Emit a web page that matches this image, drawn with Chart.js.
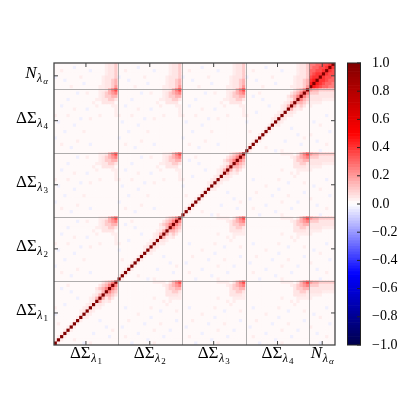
<!DOCTYPE html>
<html>
<head>
<meta charset="utf-8">
<script src="https://cdn.jsdelivr.net/npm/chart.js@4.4.0/dist/chart.umd.min.js"></script>
<style>
  html, body { margin: 0; padding: 0; background: #fff; }
  #wrap { position: relative; width: 411px; height: 411px; }
  #wrap canvas { position: absolute; left: 0; top: 0; }
</style>
</head>
<body>
<div id="wrap">
  <canvas id="matrix" width="411" height="411"></canvas>
  <canvas id="cbar" width="411" height="411"></canvas>
</div>
<script>
// four ΔΣ blocks of 20 radial bins, then the N block of 8 bins
var blockSizes = [20, 20, 20, 20, 8];
var blockEdges = [20, 40, 60, 80];
var blockCenters = [10, 30, 50, 70, 84];
var tickMain = ['ΔΣ', 'ΔΣ', 'ΔΣ', 'ΔΣ', 'N'];
var tickSub = ['λ', 'λ', 'λ', 'λ', 'λ'];
var tickSubSub = ['1', '2', '3', '4', 'α'];
var cbarMin = -1.0, cbarMax = 1.0, cbarStep = 0.2;

// cell codes: digit d = d*0.05, X = 1, '.' faint pink, ',' pink, '-' faint blue
var codeValues = { '.': 0.012, ',': 0.035, '-': -0.03, 'X': 1.0 };

// ΔΣ_i x ΔΣ_i (rows from lowest bin, bottom up)
var sameBlock = [
    "X,.......-.,........",
    ",X,...,.............",
    ".,X,.............-..",
    "..,X,.......-.......",
    "...,X,............,.",
    "....,X,.........-...",
    ".,...,X,............",
    "......,X,.....-.....",
    ".......,X,,.........",
    "-.......,X1,........",
    "........,1X1,.......",
    ",........,1X1,,.....",
    "...-......,1X11,....",
    "...........,1X31,1..",
    ".......-...,13X3121.",
    "............,13X3321",
    ".....-.......,13X532",
    "..-..........1235X53",
    "....,.........1235X5",
    "...............1235X"
];

// ΔΣ_i x ΔΣ_j, i != j
var crossBlock = [
    "....-......,........",
    ".........-..........",
    "..,...........-.....",
    "......-.............",
    "...........,....-...",
    ".-..................",
    "........-....,......",
    "...,..............-.",
    "..........-.........",
    "......,.............",
    ".............-....,.",
    "..-.......,.........",
    "...............,....",
    "..............,.,...",
    "...........,....,,,,",
    "...............1111,",
    "...............11221",
    "...............12233",
    "..............,12345",
    "...........,,,,.1357"
];

// N x N
var nBlock = [
    "X9876655",
    "9X987665",
    "89X88766",
    "788X8776",
    "6788X877",
    "66778X87",
    "566778X8",
    "5566778X"
];

// ΔΣ bins (rows) x N bins (cols)
var nCross = [
    "...-....",
    "........",
    ".....,..",
    "..-.....",
    "........",
    ",.......",
    "......-.",
    "........",
    "...,....",
    ".-......",
    "........",
    ".....-..",
    "........",
    "........",
    ",.......",
    ",,,,....",
    "1111,,,,",
    "11111111",
    "22211111",
    "43322222"
];

function codeToValue(ch) {
    if (ch in codeValues) return codeValues[ch];
    if (ch >= '0' && ch <= '9') return Number(ch) * 0.05;
    return 0.012;
}

function blockCell(bi, bj, r, c) {
    if (bi === bj) return bi === 4 ? nBlock[r][c] : sameBlock[r][c];
    if (bi === 4) return nCross[c][r];
    if (bj === 4) return nCross[r][c];
    return bi < bj ? crossBlock[r][c] : crossBlock[c][r];
}

// build the full matrix, row 0 at the bottom
var matrix = [];
for (var bi = 0; bi < blockSizes.length; bi++) {
    for (var r = 0; r < blockSizes[bi]; r++) {
        var row = [];
        for (var bj = 0; bj < blockSizes.length; bj++) {
            for (var c = 0; c < blockSizes[bj]; c++) {
                row.push(codeToValue(blockCell(bi, bj, r, c)));
            }
        }
        matrix.push(row);
    }
}
var nBins = matrix.length;

function seismic(v) {
    var t = (Math.max(-1, Math.min(1, v)) + 1) / 2;
    var r, g, b, s;
    if (t < 0.25) { s = t / 0.25; r = 0; g = 0; b = 0.3 + 0.7 * s; }
    else if (t < 0.5) { s = (t - 0.25) / 0.25; r = s; g = s; b = 1; }
    else if (t < 0.75) { s = (t - 0.5) / 0.25; r = 1; g = 1 - s; b = 1 - s; }
    else { s = (t - 0.75) / 0.25; r = 1 - 0.5 * s; g = 0; b = 0; }
    return 'rgb(' + Math.round(r * 255) + ',' + Math.round(g * 255) + ',' + Math.round(b * 255) + ')';
}

var serif = '"Liberation Serif", "DejaVu Serif", serif';

function drawLabel(ctx, i, x, base, align) {
    var fMain = (tickMain[i] === 'N' ? 'italic ' : '') + '17px ' + serif;
    var fSub = 'italic 12px ' + serif;
    var fSubSub = (tickSubSub[i] === 'α' ? 'italic ' : '') + '9px ' + serif;
    ctx.font = fMain; var w1 = ctx.measureText(tickMain[i]).width;
    ctx.font = fSub; var w2 = ctx.measureText(tickSub[i]).width;
    ctx.font = fSubSub; var w3 = ctx.measureText(tickSubSub[i]).width;
    var total = w1 + w2 + w3 + 1.5;
    var x0 = align === 'center' ? x - total / 2 : x - total;
    ctx.textAlign = 'left';
    ctx.textBaseline = 'alphabetic';
    ctx.fillStyle = '#000';
    ctx.font = fMain; ctx.fillText(tickMain[i], x0, base);
    ctx.font = fSub; ctx.fillText(tickSub[i], x0 + w1 + 0.5, base + 4);
    ctx.font = fSubSub; ctx.fillText(tickSubSub[i], x0 + w1 + w2 + 1.5, base + 6);
}

var matrixDecor = {
    id: 'matrixDecor',
    afterDatasetsDraw: function(chart) {
        var ctx = chart.ctx, a = chart.chartArea;
        var xs = chart.scales.x, ys = chart.scales.y;
        var xPix = function(u) { return xs.getPixelForValue(u - 0.5); };
        var yPix = function(u) { return ys.getPixelForValue(u); };
        ctx.save();
        ctx.strokeStyle = 'rgba(130,130,130,0.65)';
        ctx.lineWidth = 1;
        blockEdges.forEach(function(e) {
            ctx.beginPath();
            ctx.moveTo(Math.round(xPix(e)) + 0.5, a.top);
            ctx.lineTo(Math.round(xPix(e)) + 0.5, a.bottom);
            ctx.moveTo(a.left, Math.round(yPix(e)) + 0.5);
            ctx.lineTo(a.right, Math.round(yPix(e)) + 0.5);
            ctx.stroke();
        });
        ctx.strokeStyle = '#444';
        ctx.lineWidth = 1.3;
        ctx.strokeRect(a.left, a.top, a.right - a.left, a.bottom - a.top);
        ctx.lineWidth = 1;
        blockCenters.forEach(function(cv, i) {
            var px = xPix(cv), py = yPix(cv);
            ctx.beginPath();
            ctx.moveTo(px, a.bottom); ctx.lineTo(px, a.bottom - 4);
            ctx.moveTo(px, a.top); ctx.lineTo(px, a.top + 4);
            ctx.moveTo(a.left, py); ctx.lineTo(a.left + 4, py);
            ctx.moveTo(a.right, py); ctx.lineTo(a.right - 4, py);
            ctx.stroke();
            drawLabel(ctx, i, px, a.bottom + 13, 'center');
            drawLabel(ctx, i, a.left - 6, py + 2, 'right');
        });
        ctx.restore();
    }
};

var labels = [];
for (var i = 0; i < nBins; i++) labels.push(String(i));
var datasets = matrix.map(function(row) {
    return {
        data: row.map(function() { return 1; }),
        backgroundColor: row.map(seismic),
        borderWidth: 0
    };
});

new Chart(document.getElementById('matrix').getContext('2d'), {
    type: 'bar',
    data: { labels: labels, datasets: datasets },
    options: {
        responsive: false,
        animation: false,
        devicePixelRatio: 1,
        events: [],
        layout: { padding: { left: 54, right: 76, top: 63, bottom: 66 } },
        plugins: { legend: { display: false }, tooltip: { enabled: false } },
        datasets: { bar: { barPercentage: 1, categoryPercentage: 1 } },
        scales: {
            x: { display: false, stacked: true, offset: true },
            y: { display: false, stacked: true, min: 0, max: nBins }
        }
    },
    plugins: [matrixDecor]
});

// colorbar
var cbarSets = [];
var nBands = 100;
for (var k = 0; k < nBands; k++) {
    var lo = cbarMin + (cbarMax - cbarMin) * k / nBands;
    var hi = cbarMin + (cbarMax - cbarMin) * (k + 1) / nBands;
    cbarSets.push({ data: [[lo, hi]], backgroundColor: seismic((lo + hi) / 2), borderWidth: 0, grouped: false });
}

var cbarDecor = {
    id: 'cbarDecor',
    afterDatasetsDraw: function(chart) {
        var ctx = chart.ctx, a = chart.chartArea, ys = chart.scales.y;
        ctx.save();
        ctx.strokeStyle = '#222';
        ctx.lineWidth = 1;
        ctx.strokeRect(a.left + 0.5, a.top, a.right - a.left - 1, a.bottom - a.top);
        ys.ticks.forEach(function(t) {
            var py = ys.getPixelForValue(t.value);
            ctx.beginPath();
            ctx.moveTo(a.right, py); ctx.lineTo(a.right - 4, py);
            ctx.stroke();
        });
        ctx.restore();
    }
};

new Chart(document.getElementById('cbar').getContext('2d'), {
    type: 'bar',
    data: { labels: [''], datasets: cbarSets },
    options: {
        responsive: false,
        animation: false,
        devicePixelRatio: 1,
        events: [],
        layout: { padding: { left: 347, right: 6, top: 63, bottom: 66 } },
        plugins: { legend: { display: false }, tooltip: { enabled: false } },
        datasets: { bar: { barPercentage: 1, categoryPercentage: 1 } },
        scales: {
            x: { display: false },
            y: {
                position: 'right',
                min: cbarMin, max: cbarMax,
                grid: { display: false },
                border: { display: false },
                afterFit: function(s) { s.width = 44; },
                ticks: {
                    stepSize: cbarStep,
                    padding: 3,
                    color: '#000',
                    font: { family: serif, size: 14 },
                    callback: function(v) {
                        if (Math.abs(v) < 1e-9) v = 0;
                        return (v < 0 ? '\u2212' : '') + Math.abs(v).toFixed(1);
                    }
                }
            }
        }
    },
    plugins: [cbarDecor]
});
</script>
</body>
</html>
